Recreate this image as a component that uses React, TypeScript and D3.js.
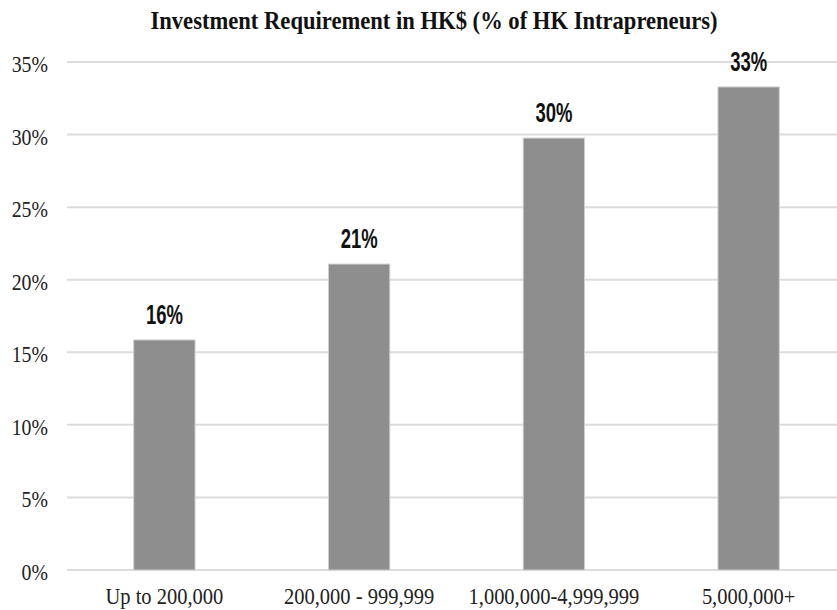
import React from "react";
import * as d3 from "d3";

const categories = ["Up to 200,000", "200,000 - 999,999", "1,000,000-4,999,999", "5,000,000+"];
const values = [15.85, 21.08, 29.76, 33.28];
const valueLabels = ["16%", "21%", "30%", "33%"];
const yTicks = [0, 5, 10, 15, 20, 25, 30, 35];
const title = "Investment Requirement in HK$ (% of HK Intrapreneurs)";

const W = 837;
const H = 610;

export default function App() {
  const y = d3.scaleLinear().domain([0, 35]).range([570, 62]);
  const x = d3
    .scaleBand<string>()
    .domain(categories)
    .range([67, 846])
    .paddingInner(0.685)
    .paddingOuter(0.3425);
  const serif = "'Liberation Serif', 'Times New Roman', serif";
  const sans = "'Liberation Sans', Arial, sans-serif";
  return (
    <svg
      width={W}
      height={H}
      style={{ position: "absolute", left: 0, top: 0, background: "#fff" }}
    >
      <text
        transform={`translate(434,29) scale(1,1.1)`}
        textAnchor="middle"
        fontFamily={serif}
        fontWeight="bold"
        fontSize={22.6}
        fill="#111"
      >
        {title}
      </text>
      {yTicks.map((t) => (
        <g key={t}>
          <line x1={67} x2={W} y1={y(t)} y2={y(t)} stroke="#dcdcdc" strokeWidth={2} />
          <text
            transform={`translate(48,${y(t) + 10}) scale(1,1.15)`}
            textAnchor="end"
            fontFamily={serif}
            fontSize={19.8}
            fill="#222"
          >
            {d3.format("d")(t) + "%"}
          </text>
        </g>
      ))}
      {categories.map((c, i) => {
        const bx = x(c)!;
        const bw = x.bandwidth();
        const cx = bx + bw / 2;
        return (
          <g key={c}>
            <rect
              x={bx}
              y={y(values[i])}
              width={bw}
              height={y(0) - y(values[i])}
              fill="#8e8e8e"
              stroke="#cfcfcf"
              strokeWidth={1}
            />
            <text
              transform={`translate(${cx},${y(values[i]) - 16}) scale(0.88,1.3)`}
              textAnchor="middle"
              fontFamily={sans}
              fontWeight="bold"
              fontSize={21}
              fill="#111"
            >
              {valueLabels[i]}
            </text>
            <text
              transform={`translate(${cx},604) scale(1,1.15)`}
              textAnchor="middle"
              fontFamily={serif}
              fontSize={20.5}
              fill="#222"
            >
              {c}
            </text>
          </g>
        );
      })}
    </svg>
  );
}
